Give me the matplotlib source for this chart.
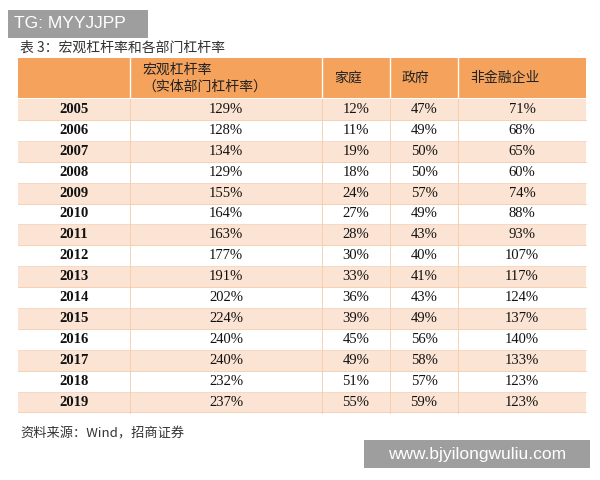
import matplotlib
matplotlib.use("Agg")
import matplotlib.pyplot as plt
from matplotlib.patches import Rectangle

plt.rcParams['font.family'] = ['Noto Sans CJK SC', 'DejaVu Sans']

years = ["2005","2006","2007","2008","2009","2010","2011","2012","2013","2014","2015","2016","2017","2018","2019"]
macro = ["129%","128%","134%","129%","155%","164%","163%","177%","191%","202%","224%","240%","240%","232%","237%"]
household = ["12%","11%","19%","18%","24%","27%","28%","30%","33%","36%","39%","45%","49%","51%","55%"]
government = ["47%","49%","50%","50%","57%","49%","43%","40%","41%","43%","49%","56%","58%","57%","59%"]
nonfin = ["71%","68%","65%","60%","74%","88%","93%","107%","117%","124%","137%","140%","133%","123%","123%"]
headers = ["", "宏观杠杆率\n（实体部门杠杆率）", "家庭", "政府", "非金融企业"]

fig = plt.figure(figsize=(6, 4.8), dpi=100)
ax = fig.add_axes([0, 0, 1, 1])
ax.set_xlim(0, 600); ax.set_ylim(480, 0); ax.axis('off')

cols = [18, 130, 322, 390, 458, 586]
hy0, hy1 = 58, 98
ry0, rh = 99, 20.9

ax.text(20, 48, "表 3：宏观杠杆率和各部门杠杆率", fontsize=10, color="#333333", va='center')
ax.add_patch(Rectangle((cols[0], hy0), cols[-1]-cols[0], hy1-hy0, color="#F4A25C", lw=0))
for i in range(1, 5):
    ax.plot([cols[i], cols[i]], [hy0, hy1], color="white", lw=1)
for i, h in enumerate(headers):
    if h:
        ax.text(cols[i]+12, (hy0+hy1)/2, h, fontsize=10, va='center', ha='left', color="#222222", linespacing=1.25)

cols_data = [years, macro, household, government, nonfin]
for r in range(len(years)):
    y = ry0 + r*rh
    fc = "#FBE4D3" if r % 2 == 0 else "white"
    ax.add_patch(Rectangle((cols[0], y), cols[-1]-cols[0], rh, facecolor=fc, edgecolor="none"))
    for c in range(5):
        xc = (cols[c]+cols[c+1])/2
        ax.text(xc, y+rh/2, cols_data[c][r], ha='center', va='center', fontsize=10.5,
                family=['Liberation Serif'], fontweight='bold' if c == 0 else 'normal', color="#111111")
    ax.plot([cols[0], cols[-1]], [y+rh, y+rh], color="#F6C9A6" if r % 2 == 0 else "#F6D8C2", lw=0.6)
for i in range(1, 5):
    ax.plot([cols[i], cols[i]], [ry0, ry0+rh*len(years)], color="#F3CBAA", lw=0.6)

ax.text(20, 434, "资料来源：Wind，招商证券", fontsize=9.5, va='center', color="#333333")

ax.add_patch(Rectangle((8, 10), 140, 28, color="#9E9E9E", lw=0))
ax.text(14, 24, "TG: MYYJJPP", fontsize=12.5, color="white", va='center', family=['Liberation Sans'])
ax.add_patch(Rectangle((364, 440), 226, 28, color="#9E9E9E", lw=0))
ax.text(477, 454, "www.bjyilongwuliu.com", fontsize=12.5, color="white", va='center', ha='center', family=['Liberation Sans'])

fig.savefig("out.png", dpi=100)
